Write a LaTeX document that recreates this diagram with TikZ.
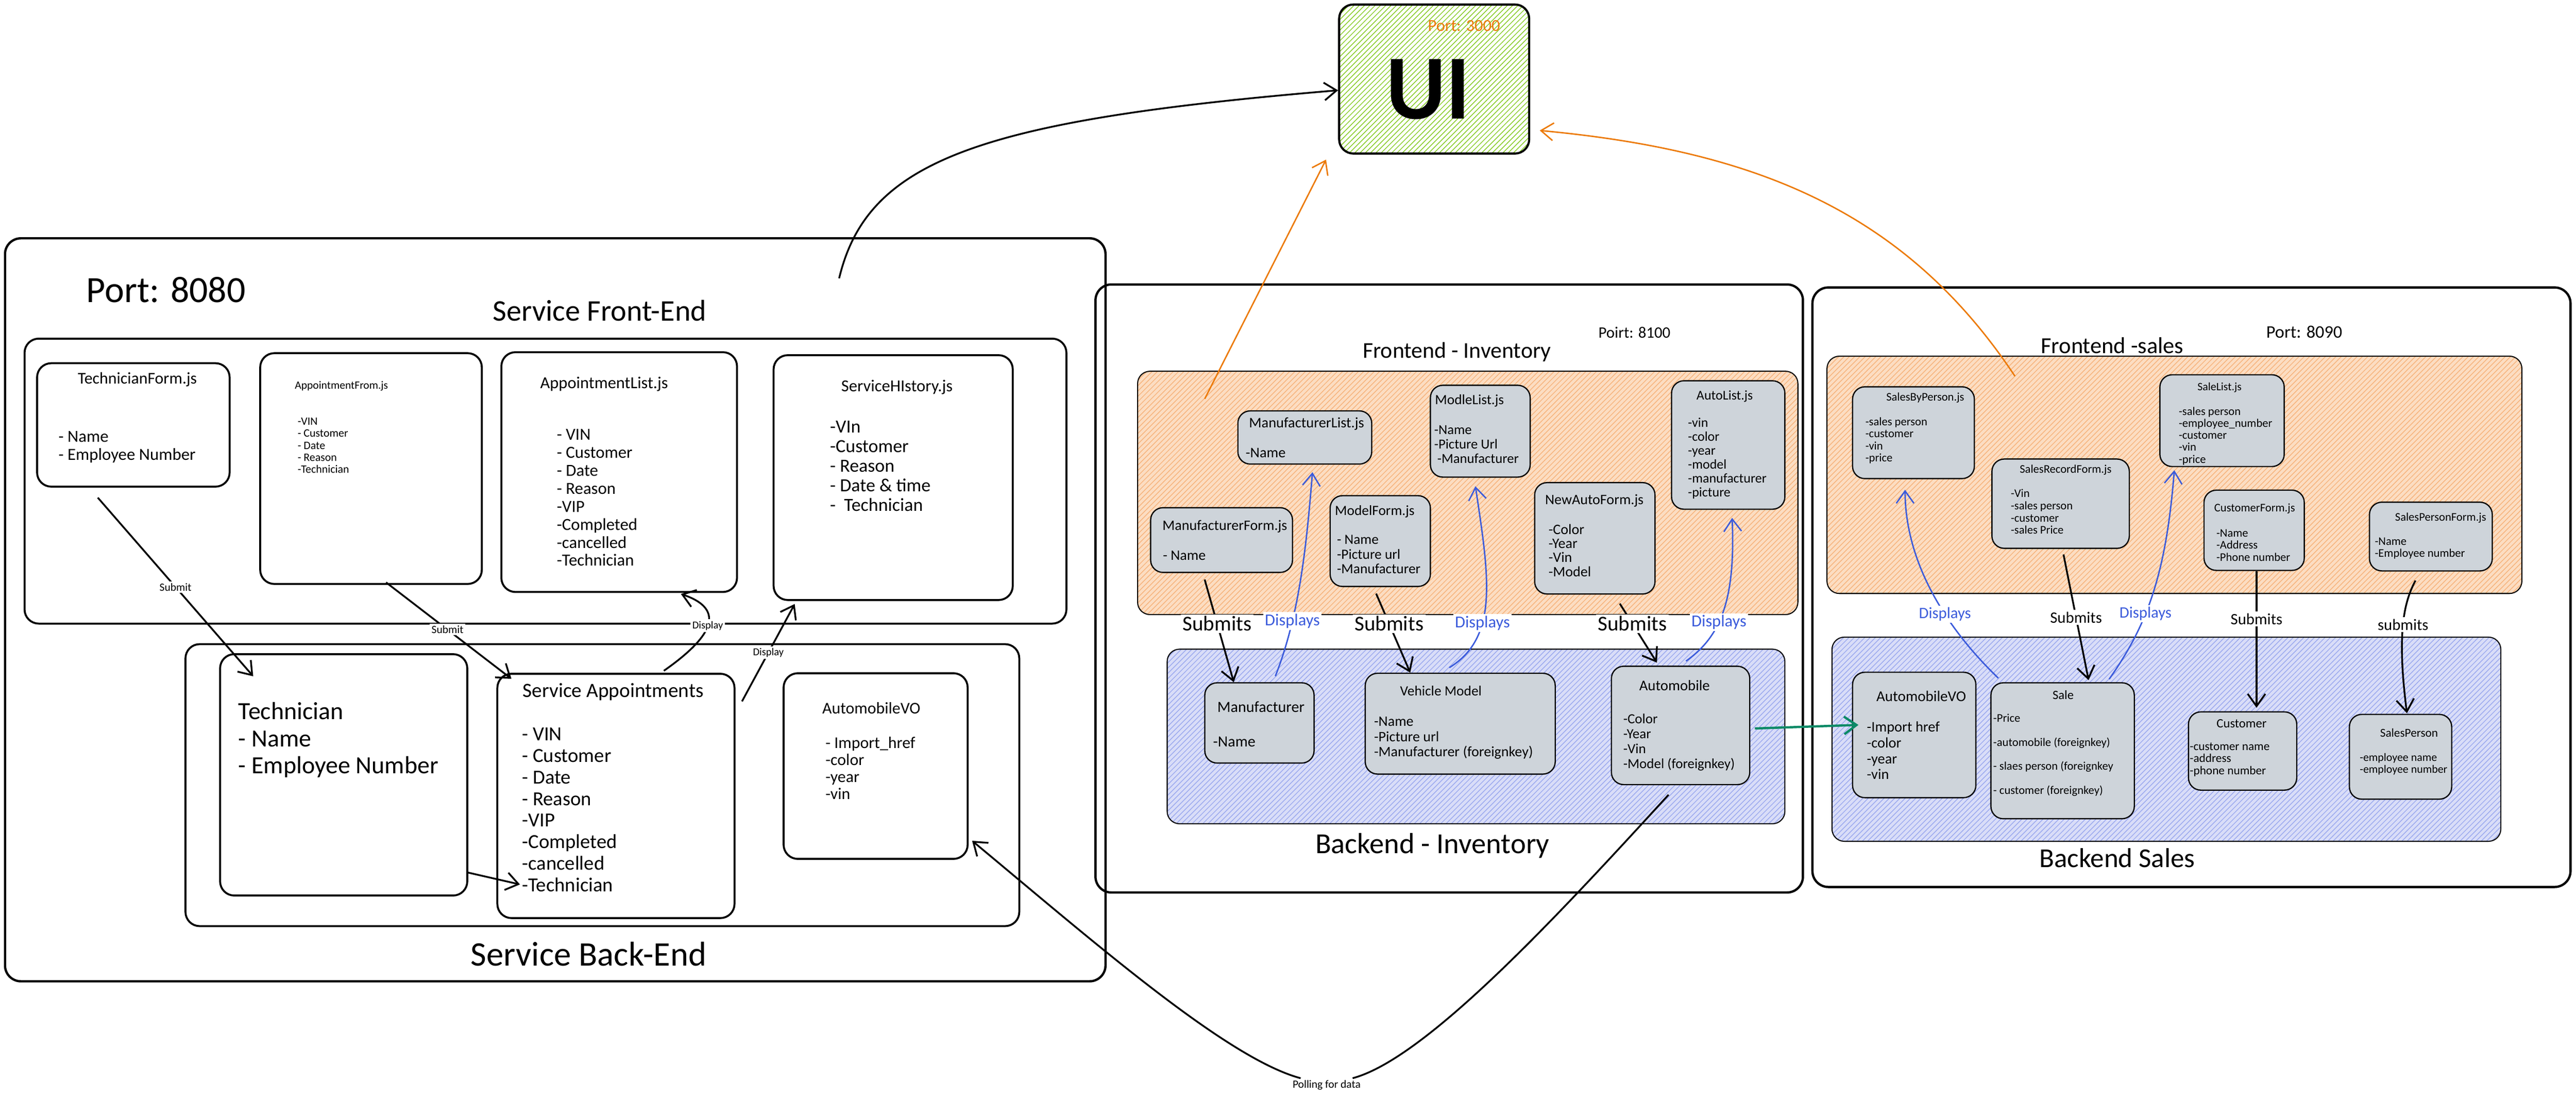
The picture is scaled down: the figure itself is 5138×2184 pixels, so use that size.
\documentclass[tikz,border=0pt]{standalone}
\usepackage{fontspec}
\setmainfont{Carlito}
\usetikzlibrary{arrows.meta,fit,patterns}
\definecolor{cardgray}{HTML}{CED4DA}
\definecolor{peach}{HTML}{FCDDC2}
\definecolor{peachline}{HTML}{F6B27A}
\definecolor{lavender}{HTML}{D9DDF8}
\definecolor{lavline}{HTML}{9AA8EE}
\definecolor{uigreen}{HTML}{82C91E}
\definecolor{dorange}{HTML}{EC7A08}
\definecolor{dblue}{HTML}{3B5BDB}
\definecolor{dgreen}{HTML}{0C8A66}
\newcommand{\fsz}[2]{\fontsize{#1}{#2}\selectfont}
\tikzset{
  outerbox/.style = { draw, line width=1.3pt, rounded corners=9pt, inner sep=0pt },
     pbox/.style = { draw, line width=1.1pt, rounded corners=8pt, inner sep=0pt },
     card/.style = { draw, line width=0.7pt, fill=cardgray, rounded corners=7pt, inner sep=0pt },
    opanel/.style = { draw, line width=0.6pt, rounded corners=7pt, inner sep=0pt,
                      preaction={fill=peach}, pattern=north east lines, pattern color=peachline },
    bpanel/.style = { draw, line width=0.6pt, rounded corners=7pt, inner sep=0pt,
                      preaction={fill=lavender}, pattern=north east lines, pattern color=lavline },
     uibox/.style = { draw, line width=1.2pt, rounded corners=8pt, inner sep=0pt,
                      pattern=north east lines, pattern color=uigreen },
     items/.style = { anchor=west, align=left, inner sep=0pt },
     arrow/.style = { line width=1pt, -{Straight Barb[length=7pt,width=10pt]} },
    barrow/.style = { arrow, color=dblue, line width=0.8pt },
    oarrow/.style = { arrow, color=dorange, line width=0.8pt },
    garrow/.style = { arrow, color=dgreen, line width=1.3pt },
       lbl/.style = { fill=white, inner sep=1pt }
}
\begin{document}
\begin{tikzpicture}[x=0.01cm, y=-0.01cm]
  \fill[white] (0,0) rectangle (5138,2184);
  \useasboundingbox (0,0) rectangle (5138,2184);

  % UI
  \node[uibox, fit={(2671,9) (3050,306)}] (ui) {};
  \node[font=\fsz{52}{56}\bfseries] (uiT) at (2849,178) {UI};
  \node[font=\fsz{9.5}{11}, text=dorange] (port3000) at (2920,51) {Port: 3000};

  % service
  \node[outerbox, fit={(10,475) (2205,1956)}] (svc) {};
  \node[font=\fsz{21}{24}] (port8080) at (331,578) {Port: 8080};
  \node[font=\fsz{17}{19}] (svcFrontT) at (1196,619) {Service Front-End};
  \node[pbox, fit={(49,675) (2127,1243)}] (svcFront) {};

  \node[pbox, fit={(74,724) (458,970)}] (techForm) {};
  \node[font=\fsz{9.3}{10}] (techFormT) at (274,756) {TechnicianForm.js};
  \node[items, font=\fsz{9.6}{10.2}] (techFormI) at (116,891) {- Name\\- Employee Number};

  \node[pbox, fit={(519,704) (961,1164)}] (apptForm) {};
  \node[font=\fsz{6.3}{7}] (apptFormT) at (681,770) {AppointmentFrom.js};
  \node[items, font=\fsz{6.4}{6.8}] (apptFormI) at (593,888)
    {-VIN\\- Customer\\- Date\\- Reason\\-Technician};

  \node[pbox, fit={(1000,702) (1470,1180)}] (apptList) {};
  \node[font=\fsz{9.5}{10}] (apptListT) at (1205,766) {AppointmentList.js};
  \node[items, font=\fsz{9.6}{10.2}] (apptListI) at (1110,992)
    {- VIN\\- Customer\\- Date\\- Reason\\-VIP\\-Completed\\-cancelled\\-Technician};

  \node[pbox, fit={(1543,708) (2020,1196)}] (svcHist) {};
  \node[font=\fsz{9.5}{10}] (svcHistT) at (1789,772) {ServiceHIstory.js};
  \node[items, font=\fsz{10.5}{11.1}] (svcHistI) at (1655,929)
    {-VIn\\-Customer\\- Reason\\- Date \& time\\-~~Technician};

  \node[pbox, fit={(370,1284) (2033,1846)}] (svcBack) {};
  \node[pbox, fit={(439,1304) (932,1785)}] (tech) {};
  \node[items, font=\fsz{14}{15.4}] (techI) at (475,1475) {Technician\\- Name\\- Employee Number};

  \node[pbox, fit={(992,1343) (1465,1830)}] (svcAppt) {};
  \node[font=\fsz{11.5}{12}] (svcApptT) at (1223,1379) {Service Appointments};
  \node[items, font=\fsz{11.3}{12.2}] (svcApptI) at (1041,1614)
    {- VIN\\- Customer\\- Date\\- Reason\\-VIP\\-Completed\\-cancelled\\-Technician};

  \node[pbox, fit={(1563,1342) (1930,1712)}] (autoVOsvc) {};
  \node[font=\fsz{9.3}{10}] (autoVOsvcT) at (1738,1411) {AutomobileVO};
  \node[items, font=\fsz{9.3}{9.7}] (autoVOsvcI) at (1646,1531)
    {- Import\_href\\-color\\-year\\-vin};
  \node[font=\fsz{19.5}{22}] (svcBackT) at (1174,1902) {Service Back-End};

  % inventory
  \node[outerbox, fit={(2185,567) (3596,1779)}] (inv) {};
  \node[font=\fsz{12.8}{14}] (invFrontT) at (2906,702) {Frontend - Inventory};
  \node[font=\fsz{9}{10}] (port8100) at (3260,663) {Poirt: 8100};
  \node[opanel, fit={(2269,740) (3586,1225)}] (invFront) {};

  \node[card, fit={(2469,819) (2736,925)}] (mfrList) {};
  \node[font=\fsz{8.3}{9}] (mfrListT) at (2606,845) {ManufacturerList.js};
  \node[items, font=\fsz{8.3}{9}] (mfrListI) at (2484,903) {-Name};

  \node[card, fit={(2853,768) (3052,951)}] (modleList) {};
  \node[font=\fsz{8}{8.5}] (modleListT) at (2931,799) {ModleList.js};
  \node[items, font=\fsz{7.8}{8.2}] (modleListI) at (2860,886) {-Name\\-Picture Url\\~-Manufacturer};

  \node[card, fit={(3334,759) (3560,1015)}] (autoList) {};
  \node[font=\fsz{7.6}{8}] (autoListT) at (3440,790) {AutoList.js};
  \node[items, font=\fsz{7.6}{7.9}] (autoListI) at (3366,914)
    {-vin\\-color\\-year\\-model\\-manufacturer\\-picture};

  \node[card, fit={(2295,1012) (2578,1141)}] (mfrForm) {};
  \node[font=\fsz{8.2}{9}] (mfrFormT) at (2443,1049) {ManufacturerForm.js};
  \node[items, font=\fsz{8.2}{9}] (mfrFormI) at (2319,1107) {- Name};

  \node[card, fit={(2653,988) (2853,1169)}] (modelForm) {};
  \node[font=\fsz{8}{8.5}] (modelFormT) at (2742,1020) {ModelForm.js};
  \node[items, font=\fsz{8}{8.2}] (modelFormI) at (2666,1105) {- Name\\-Picture url\\-Manufacturer};

  \node[card, fit={(3061,962) (3301,1184)}] (newAuto) {};
  \node[font=\fsz{8.2}{9}] (newAutoT) at (3180,998) {NewAutoForm.js};
  \node[items, font=\fsz{8.2}{8}] (newAutoI) at (3088,1097) {-Color\\-Year\\-Vin\\-Model};

  \node[bpanel, fit={(2328,1294) (3560,1642)}] (invBack) {};
  \node[card, fit={(2403,1361) (2621,1521)}] (mfr) {};
  \node[font=\fsz{8.8}{9}] (mfrT) at (2515,1409) {Manufacturer};
  \node[items, font=\fsz{8.8}{9}] (mfrI) at (2419,1479) {-Name};

  \node[card, fit={(2723,1342) (3102,1543)}] (vehModel) {};
  \node[font=\fsz{8}{8.5}] (vehModelT) at (2874,1377) {Vehicle Model};
  \node[items, font=\fsz{8.2}{8.7}] (vehModelI) at (2740,1471)
    {-Name\\-Picture url\\-Manufacturer (foreignkey)};

  \node[card, fit={(3214,1328) (3490,1564)}] (autoInv) {};
  \node[font=\fsz{8.4}{9}] (autoInvT) at (3340,1366) {Automobile};
  \node[items, font=\fsz{7.9}{8.5}] (autoInvI) at (3237,1480)
    {-Color\\-Year\\-Vin\\-Model (foreignkey)};
  \node[font=\fsz{16.5}{18}] (invBackT) at (2857,1686) {Backend - Inventory};

  % sales
  \node[outerbox, fit={(3615,573) (5127,1768)}] (sales) {};
  \node[font=\fsz{13}{15}] (salesFrontT) at (4213,689) {Frontend -sales};
  \node[font=\fsz{10}{11}] (port8090) at (4596,662) {Port: 8090};
  \node[opanel, fit={(3644,710) (5030,1183)}] (salesFront) {};

  \node[card, fit={(3695,771) (3938,954)}] (sbp) {};
  \node[font=\fsz{6.6}{7}] (sbpT) at (3840,793) {SalesByPerson.js};
  \node[items, font=\fsz{6.6}{6.9}] (sbpI) at (3720,878) {-sales person\\-customer\\-vin\\-price};

  \node[card, fit={(3973,915) (4247,1093)}] (srf) {};
  \node[font=\fsz{6.6}{7}] (srfT) at (4120,937) {SalesRecordForm.js};
  \node[items, font=\fsz{6.6}{6.9}] (srfI) at (4010,1020) {-Vin\\-sales person\\-customer\\-sales Price};

  \node[card, fit={(4308,747) (4556,930)}] (saleList) {};
  \node[font=\fsz{6.4}{7}] (saleListT) at (4427,772) {SaleList.js};
  \node[items, font=\fsz{6.6}{6.8}] (saleListI) at (4345,869)
    {-sales person\\-employee\_number\\-customer\\-vin\\-price};

  \node[card, fit={(4396,977) (4596,1137)}] (custForm) {};
  \node[font=\fsz{6.6}{7}] (custFormT) at (4497,1014) {CustomerForm.js};
  \node[items, font=\fsz{6.6}{6.8}] (custFormI) at (4420,1087) {-Name\\-Address\\-Phone number};

  \node[card, fit={(4726,1001) (4971,1138)}] (spForm) {};
  \node[font=\fsz{6.6}{7}] (spFormT) at (4868,1032) {SalesPersonForm.js};
  \node[items, font=\fsz{6.6}{6.8}] (spFormI) at (4736,1093) {-Name\\-Employee number};

  \node[bpanel, fit={(3654,1270) (4988,1677)}] (salesBack) {};
  \node[card, fit={(3695,1340) (3941,1590)}] (avoS) {};
  \node[font=\fsz{8.5}{9}] (avoST) at (3832,1388) {AutomobileVO};
  \node[items, font=\fsz{8.3}{9}] (avoSI) at (3723,1496) {-Import href\\-color\\-year\\-vin};

  \node[card, fit={(3971,1361) (4257,1632)}] (sale) {};
  \node[font=\fsz{7.2}{7.5}] (saleT) at (4115,1385) {Sale};
  \node[items, font=\fsz{6.6}{13.6}] (saleI) at (3975,1505)
    {-Price\\-automobile (foreignkey)\\- slaes person (foreignkey\\- customer (foreignkey)};

  \node[card, fit={(4365,1419) (4581,1575)}] (cust) {};
  \node[font=\fsz{7.2}{7.5}] (custT) at (4471,1442) {Customer};
  \node[items, font=\fsz{6.8}{6.8}] (custI) at (4367,1514) {-customer name\\-address\\-phone number};

  \node[card, fit={(4686,1424) (4890,1593)}] (sp) {};
  \node[font=\fsz{6.8}{7.5}] (spT) at (4805,1461) {SalesPerson};
  \node[items, font=\fsz{6.4}{6.8}] (spI) at (4706,1523) {-employee name\\-employee number};
  \node[font=\fsz{15.5}{17}] (salesBackT) at (4223,1710) {Backend Sales};

  % service connectors
  \draw[arrow] ([shift={(123,20)}]techForm.south west) -- ([shift={(68,46)}]tech.north west)
    node[lbl, pos=0.5, font=\fsz{6.3}{7}] (submit1) {Submit};
  \draw[arrow] ([shift={(253,-5)}]apptForm.south west) -- ([shift={(30,12)}]svcAppt.north west)
    node[lbl, pos=0.49, font=\fsz{6.3}{7}] (submit2) {Submit};
  \draw[arrow] ([shift={(334,-4)}]svcAppt.north west) .. controls (1420,1270) and (1450,1215)
    .. ([shift={(360,2)}]apptList.south west) node[lbl, pos=0.5, font=\fsz{6}{7}] (display1) {Display};
  \draw[arrow] ([shift={(13,57)}]svcAppt.north east) -- ([shift={(44,6)}]svcHist.south west)
    node[lbl, pos=0.5, font=\fsz{6}{7}] (display2) {Display};
  \draw[arrow] ([shift={(-2,-48)}]tech.south east) -- ([shift={(47,-69)}]svcAppt.south west);
  \draw[arrow] ([shift={(1666,82)}]svc.north west) .. controls (1730,320) and (1950,240) .. (ui.west |- 0,180);

  % inventory connectors
  \foreach \src/\sx/\sy/\dst/\dx/\dy/\p/\nm in {mfrForm/109/13/mfr/59/0/0.43/sub1,
      modelForm/93/13/vehModel/91/0/0.38/sub2, newAuto/171/18/autoInv/92/-6/0.34/sub3} {
    \draw[arrow] ([shift={(\sx,\sy)}]\src.south west) -- ([shift={(\dx,\dy)}]\dst.north west)
      node[lbl, pos=\p, font=\fsz{12}{13}] (\nm) {Submits};
  }
  \draw[barrow] ([shift={(142,-12)}]mfr.north west) .. controls (2590,1230) and (2605,1100)
    .. ([shift={(150,15)}]mfrList.south west) node[lbl, pos=0.3, font=\fsz{9.5}{10}, text=dblue] (disp1) {Displays};
  \draw[barrow] ([shift={(169,-10)}]vehModel.north west) .. controls (2990,1270) and (2970,1150)
    .. ([shift={(91,17)}]modleList.south west) node[lbl, pos=0.36, font=\fsz{9.5}{10}, text=dblue] (disp2) {Displays};
  \draw[barrow] ([shift={(150,-9)}]autoInv.north west) .. controls (3430,1270) and (3462,1200)
    .. ([shift={(122,16)}]autoList.south west) node[lbl, pos=0.42, font=\fsz{9.5}{10}, text=dblue] (disp3) {Displays};

  % sales connectors
  \draw[barrow] ([shift={(16,-8)}]sale.north west) .. controls (3880,1250) and (3800,1120)
    .. ([shift={(106,21)}]sbp.south west) node[lbl, pos=0.38, font=\fsz{9}{10}, text=dblue] (disp4) {Displays};
  \draw[arrow] ([shift={(144,11)}]srf.south west) -- ([shift={(196,-4)}]sale.north west)
    node[lbl, pos=0.5, font=\fsz{9}{10}] (sub4) {Submits};
  \draw[barrow] ([shift={(237,-6)}]sale.north west) .. controls (4280,1250) and (4320,1150)
    .. ([shift={(30,6)}]saleList.south west) node[lbl, pos=0.4, font=\fsz{9}{10}, text=dblue] (disp5) {Displays};
  \draw[arrow] ([shift={(106,0)}]custForm.south west) -- ([shift={(137,-7)}]cust.north west)
    node[lbl, pos=0.35, font=\fsz{9}{10}] (sub5) {Submits};
  \draw[arrow] ([shift={(93,18)}]spForm.south west) .. controls (4795,1200) and (4780,1260)
    .. ([shift={(116,-1)}]sp.north west) node[lbl, pos=0.5, font=\fsz{9}{10}] (sub6) {submits};

  % between blocks
  \draw[oarrow] ([shift={(135,56)}]invFront.north west) -- ([shift={(-24,10)}]ui.south west);
  \draw[oarrow] ([shift={(376,41)}]salesFront.north west) .. controls (3800,420) and (3500,300)
    .. ([shift={(19,-48)}]ui.south east);
  \draw[garrow] ([shift={(9,6)}]autoInv.east) -- ([shift={(13,-20)}]avoS.west);
  \node[lbl, font=\fsz{6.3}{7}] (poll) at (2646,2163) {Polling for data};
  \draw[arrow] ([shift={(-24,19)}]autoInv.south) .. controls (3110,1822) and (2845,2110) .. (poll)
    .. controls (2447,2110) and (2180,1876) .. ([shift={(7,-38)}]autoVOsvc.south east);
\end{tikzpicture}
\end{document}
